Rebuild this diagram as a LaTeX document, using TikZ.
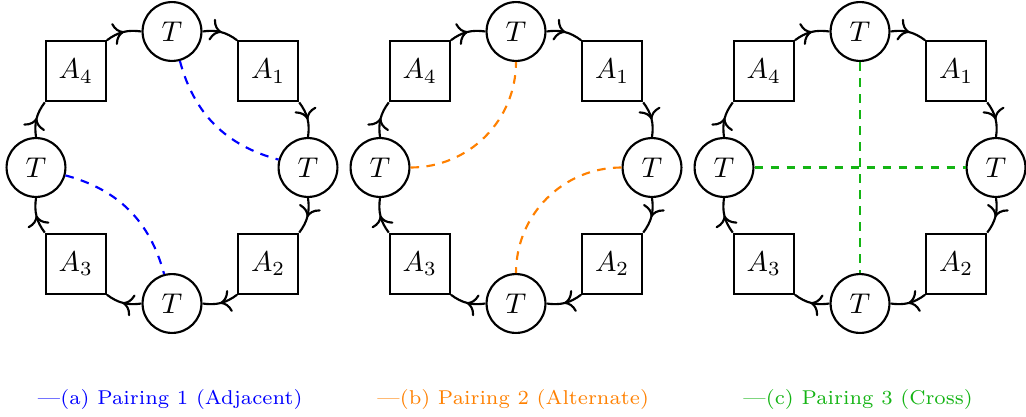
\documentclass[tikz,border=0pt]{standalone}
\usetikzlibrary{decorations.markings,arrows.meta}
\definecolor{pairblue}{RGB}{0,0,255}
\definecolor{pairorange}{RGB}{255,128,0}
\definecolor{pairgreen}{RGB}{20,180,20}
\tikzset{
  tnode/.style={circle,draw,line width=0.75pt,minimum size=20.6pt,inner sep=0pt,fill=white},
  anode/.style={rectangle,draw,line width=0.75pt,minimum size=21pt,inner sep=0pt,fill=white},
  flow/.style={line width=0.75pt,postaction={decorate},
    decoration={markings,mark=at position 0.52 with {\arrow{To[scale=1.15]}}}},
  pair/.style={line width=0.75pt,dash pattern=on 3pt off 2.6pt},
  captext/.style={font=\scriptsize,anchor=center}
}
\begin{document}
\begin{tikzpicture}[x=0.35pt,y=0.35pt]
\useasboundingbox (0,0) rectangle (1026,416);
\foreach \p/\cx in {1/172,2/516,3/860}{
  \begin{scope}[shift={(\cx,248.5)}]
    \node[tnode] (T1-\p) at (90:136) {$T$};
    \node[anode] (A1-\p) at (45:136) {$A_1$};
    \node[tnode] (T2-\p) at (0:136) {$T$};
    \node[anode] (A2-\p) at (-45:136) {$A_2$};
    \node[tnode] (T3-\p) at (-90:136) {$T$};
    \node[anode] (A3-\p) at (-135:136) {$A_3$};
    \node[tnode] (T4-\p) at (180:136) {$T$};
    \node[anode] (A4-\p) at (135:136) {$A_4$};
    \draw[flow] (T1-\p) to[bend left=22.5] (A1-\p);
    \draw[flow] (A1-\p) to[bend left=22.5] (T2-\p);
    \draw[flow] (T2-\p) to[bend left=22.5] (A2-\p);
    \draw[flow] (A2-\p) to[bend left=22.5] (T3-\p);
    \draw[flow] (T3-\p) to[bend left=22.5] (A3-\p);
    \draw[flow] (A3-\p) to[bend left=22.5] (T4-\p);
    \draw[flow] (T4-\p) to[bend left=22.5] (A4-\p);
    \draw[flow] (A4-\p) to[bend left=22.5] (T1-\p);
  \end{scope}
}
% pairing 1
\draw[pair,pairblue] (T1-1) to[bend right=30] (T2-1);
\draw[pair,pairblue] (T4-1) to[bend left=30] (T3-1);
% pairing 2
\draw[pair,pairorange] (T4-2) to[out=0,in=-90] (T1-2);
\draw[pair,pairorange] (T2-2) to[out=180,in=90] (T3-2);
% pairing 3
\draw[pair,pairgreen] (T1-3) -- (T3-3);
\draw[pair,pairgreen] (T4-3) -- (T2-3);
% captions
\node[captext,text=pairblue] (cap1) at (170,17) {\textemdash(a) Pairing 1 (Adjacent)};
\node[captext,text=pairorange] (cap2) at (513,17) {\textemdash(b) Pairing 2 (Alternate)};
\node[captext,text=pairgreen] (cap3) at (858,17) {\textemdash(c) Pairing 3 (Cross)};
\end{tikzpicture}
\end{document}
